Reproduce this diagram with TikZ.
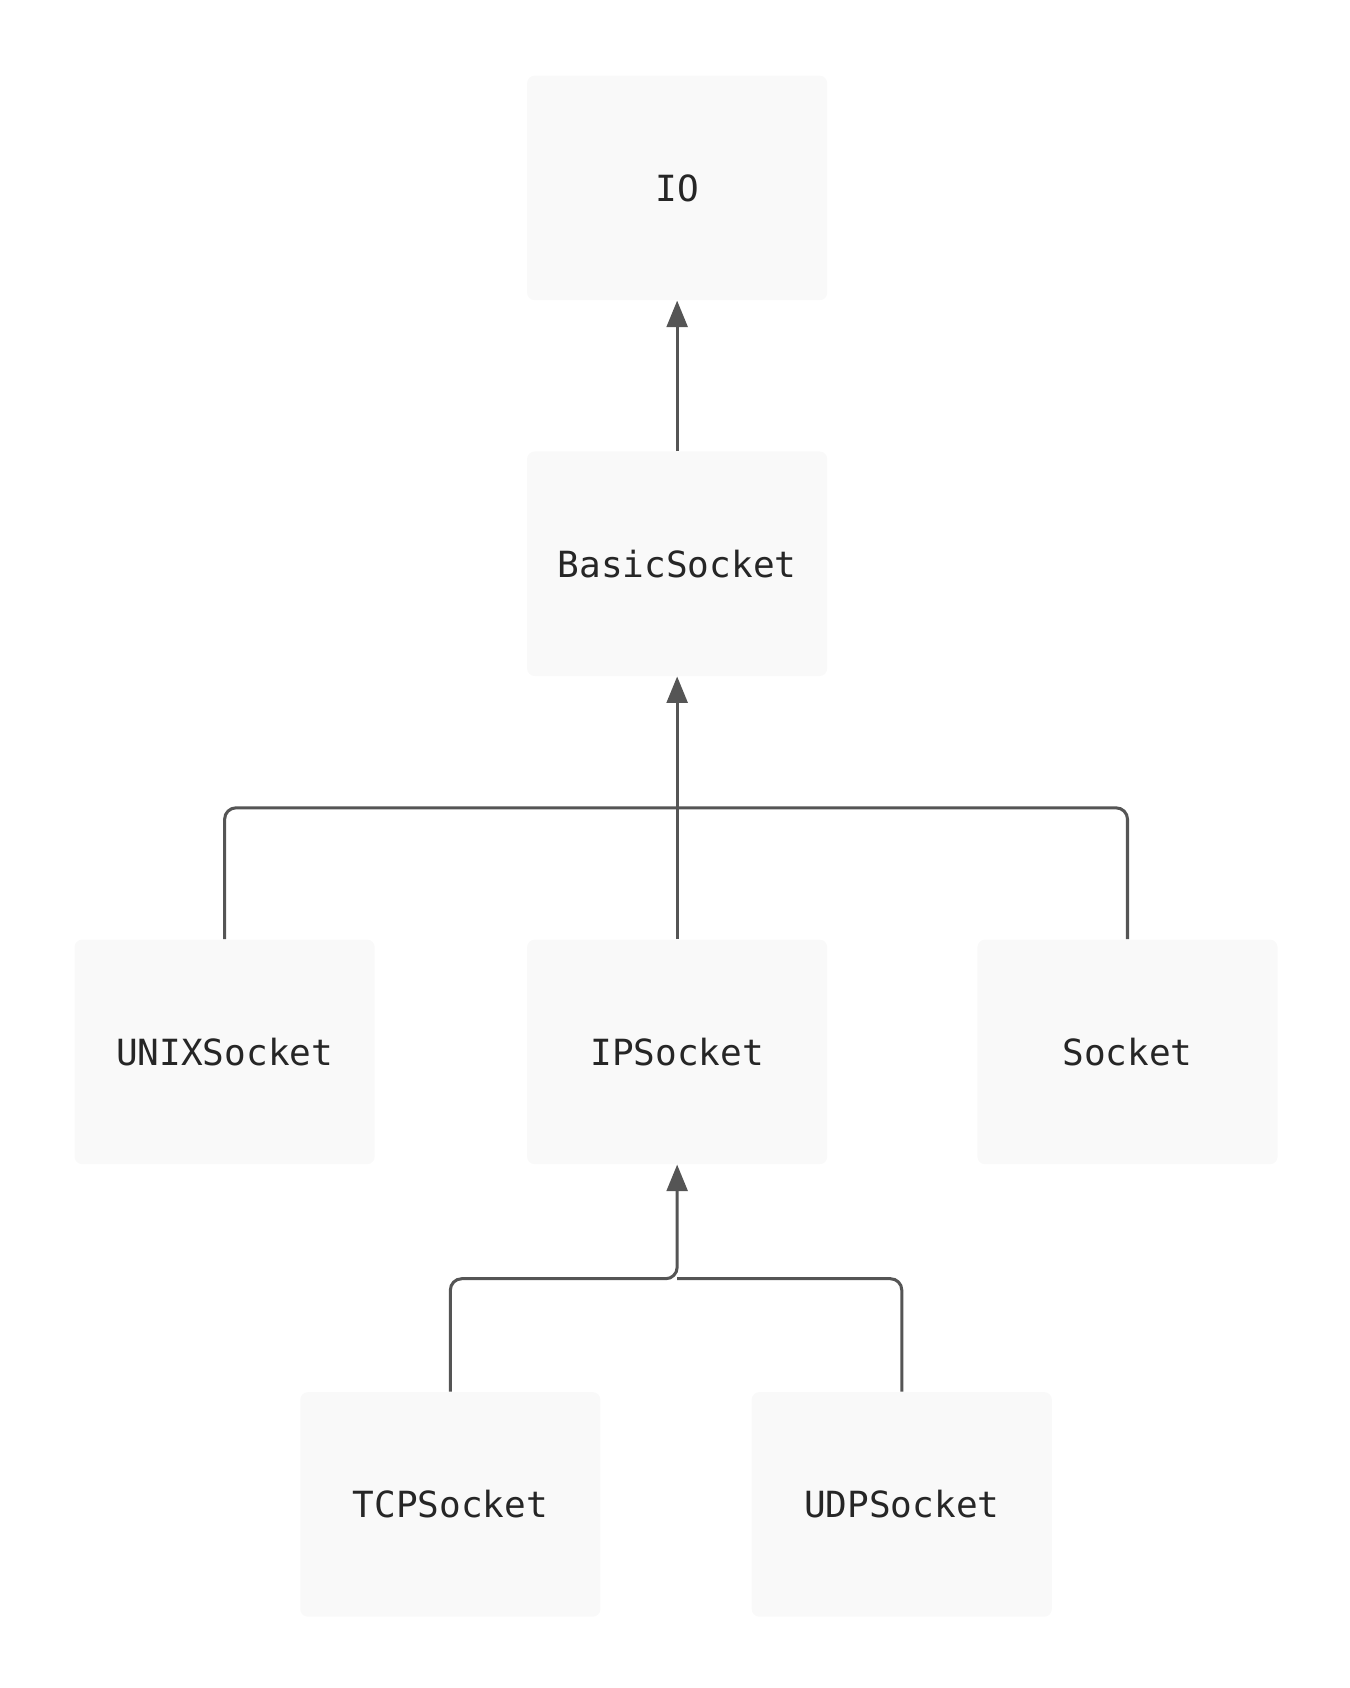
\documentclass[tikz,border=0pt]{standalone}
\usepackage{fontspec}
\setmonofont{DejaVu Sans Mono}
\usetikzlibrary{arrows.meta}
\definecolor{boxfill}{HTML}{F9F9F9}
\definecolor{linec}{HTML}{555555}
\begin{document}
\begin{tikzpicture}[x=0.02cm,y=-0.02cm,
  box/.style={fill=boxfill,draw=none,rounded corners=4pt,minimum width=5.56cm,minimum height=4.16cm,font=\ttfamily\fontsize{19}{22}\selectfont,text=black!85},
  conn/.style={draw=linec,line width=1.6pt,rounded corners=6pt},
  arr/.style={conn,-{Triangle[length=14pt,width=11pt]}}]
\useasboundingbox (0,0) rectangle (1250,1563);
\node[box] (io) at (627,174) {IO};
\node[box] (bs) at (627,522) {BasicSocket};
\node[box] (ux) at (208,974) {UNIXSocket};
\node[box] (ip) at (627,974) {IPSocket};
\node[box] (so) at (1044,974) {Socket};
\node[box] (tcp) at (417,1393) {TCPSocket};
\node[box] (udp) at (835,1393) {UDPSocket};
\draw[arr] (bs.north) -- (io.south);
\draw[arr] (ip.north) -- (bs.south);
\draw[conn] (ux.north) |- (627,748);
\draw[conn] (so.north) |- (627,748);
\draw[arr] (tcp.north) |- (627,1184) -- (ip.south);
\draw[conn] (udp.north) |- (627,1184);
\end{tikzpicture}
\end{document}
